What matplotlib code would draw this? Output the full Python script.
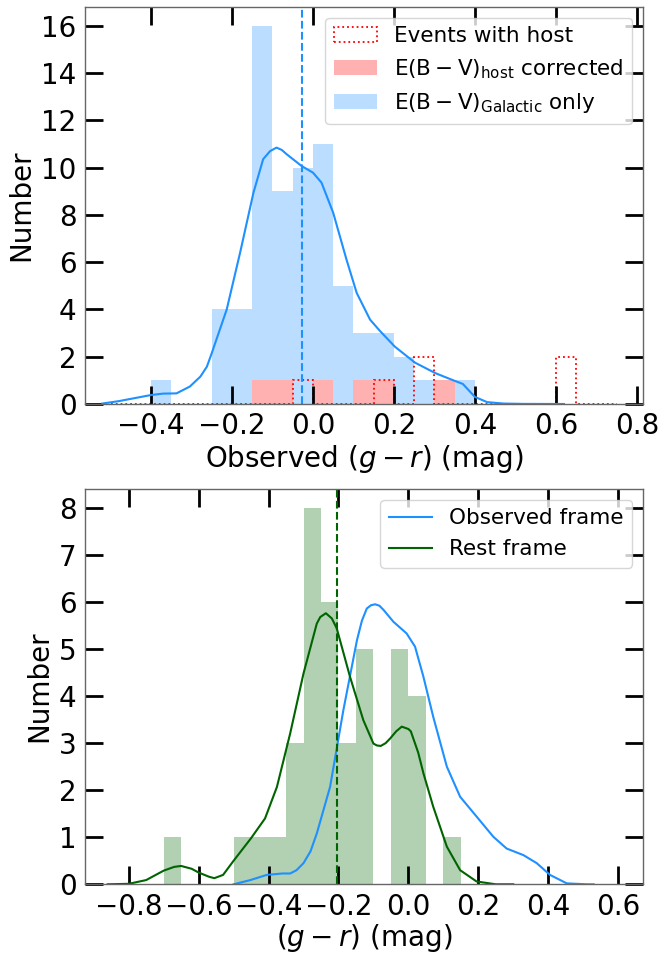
import matplotlib
matplotlib.use("Agg")
import matplotlib.pyplot as plt
from matplotlib.patches import Patch
import numpy as np

# ---------------- data ----------------
# Top panel: observed g-r histogram (bin width 0.05)
top_edges = [-0.40, -0.35, -0.30, -0.25, -0.20, -0.15, -0.10, -0.05, 0.00,
             0.05, 0.10, 0.15, 0.20, 0.25, 0.30, 0.35, 0.40]
galactic_counts = [1, 0, 0, 4, 4, 16, 9, 10, 11, 5, 3, 3, 2, 1, 1, 1]
host_corr_counts = [0, 0, 0, 0, 0, 1, 1, 0, 1, 0, 1, 1, 0, 0, 1, 0]

host_edges = [-0.50, -0.45, -0.40, -0.35, -0.30, -0.25, -0.20, -0.15, -0.10,
              -0.05, 0.00, 0.05, 0.10, 0.15, 0.20, 0.25, 0.30, 0.35, 0.40,
              0.45, 0.50, 0.55, 0.60, 0.65, 0.70, 0.75]
host_counts = [0, 0, 0, 0, 0, 0, 0, 0, 0,
               1, 0, 0, 0, 1, 0, 2, 0, 0, 0,
               0, 0, 0, 2, 0, 0]

top_kde_x = [-0.52, -0.48, -0.44, -0.40, -0.37, -0.337, -0.304, -0.278,
             -0.262, -0.25, -0.213, -0.18, -0.147, -0.135, -0.123, -0.106,
             -0.09, -0.077, -0.065, -0.028, 0.0, 0.021, 0.05, 0.083, 0.108,
             0.141, 0.165, 0.202, 0.252, 0.303, 0.347, 0.37, 0.40, 0.43,
             0.47, 0.52, 0.62]
top_kde_y = [0.02, 0.12, 0.25, 0.38, 0.44, 0.45, 0.74, 1.16,
             1.58, 2.15, 4.0, 6.4, 8.94, 9.65, 10.36, 10.7,
             10.85, 10.75, 10.57, 10.07, 9.79, 9.37, 8.09, 6.1, 4.7,
             3.57, 3.1, 2.43, 1.75, 1.3, 1.0, 0.85, 0.3, 0.08,
             0.02, 0.005, 0.0]
top_median = -0.028

# Bottom panel: rest-frame g-r histogram (bin width 0.05)
bot_edges = [-0.70, -0.65, -0.60, -0.55, -0.50, -0.45, -0.40, -0.35, -0.30,
             -0.25, -0.20, -0.15, -0.10, -0.05, 0.00, 0.05, 0.10, 0.15]
rest_counts = [1, 0, 0, 0, 1, 1, 1, 3, 8, 6, 3, 5, 0, 5, 4, 0, 1]

obs_kde_x = [-0.50, -0.452, -0.405, -0.36, -0.338, -0.32, -0.30, -0.28,
             -0.262, -0.224, -0.186, -0.147, -0.133, -0.119, -0.107, -0.095,
             -0.083, -0.071, -0.043, -0.005, 0.019, 0.043, 0.071, 0.11,
             0.148, 0.195, 0.243, 0.281, 0.329, 0.367, 0.405, 0.453, 0.51,
             0.53]
obs_kde_y = [0.0, 0.09, 0.2, 0.23, 0.23, 0.3, 0.45, 0.7,
             1.08, 2.07, 3.70, 5.19, 5.6, 5.86, 5.93, 5.95,
             5.92, 5.83, 5.58, 5.33, 5.05, 4.41, 3.56, 2.50,
             1.86, 1.44, 1.01, 0.76, 0.62, 0.45, 0.20, 0.02, 0.0,
             0.0]

rest_kde_x = [-0.86, -0.80, -0.75, -0.70, -0.67, -0.65, -0.62, -0.60, -0.57,
              -0.555, -0.53, -0.50, -0.45, -0.41, -0.376, -0.338, -0.30,
              -0.262, -0.252, -0.236, -0.219, -0.205, -0.167, -0.129, -0.10,
              -0.09, -0.079, -0.065, -0.052, -0.035, -0.019, 0.0, 0.007,
              0.014, 0.028, 0.043, 0.071, 0.11, 0.148, 0.195, 0.25, 0.30]
rest_kde_y = [0.0, 0.01, 0.09, 0.29, 0.37, 0.39, 0.33, 0.25, 0.16,
              0.13, 0.2, 0.5, 0.98, 1.4, 2.07, 3.21, 4.48,
              5.54, 5.68, 5.76, 5.65, 5.44, 4.41, 3.49, 2.99,
              2.95, 2.94, 3.0, 3.10, 3.25, 3.35, 3.3, 3.25,
              3.1, 2.8, 2.36, 1.65, 0.80, 0.30, 0.06, 0.0, 0.0]
rest_median = -0.205

top_xticks = [-0.4, -0.2, 0.0, 0.2, 0.4, 0.6, 0.8]
top_yticks = [0, 2, 4, 6, 8, 10, 12, 14, 16]
bot_xticks = [-0.8, -0.6, -0.4, -0.2, 0.0, 0.2, 0.4, 0.6]
bot_yticks = [0, 1, 2, 3, 4, 5, 6, 7, 8]

# ---------------- figure ----------------
plt.rcParams['font.family'] = ['DejaVu Sans']
fig = plt.figure(figsize=(6.63, 9.56), dpi=100)
ax1 = fig.add_axes([0.1282, 0.5774, 0.8416, 0.4153])
ax2 = fig.add_axes([0.1282, 0.0750, 0.8416, 0.4135])

PINK = '#ffb1b1'


def style(ax):
    ax.tick_params(direction='in', length=13, width=2, top=True, right=True,
                   labelsize=20, color='black', pad=6)
    for s in ax.spines.values():
        s.set_color('0.4')
        s.set_linewidth(1.0)


# top panel
tw = np.diff(top_edges)
ax1.bar(top_edges[:-1], galactic_counts, width=tw, align='edge',
        color='dodgerblue', alpha=0.3, linewidth=0)
ax1.bar(top_edges[:-1], host_corr_counts, width=tw, align='edge',
        color=PINK, linewidth=0)
ax1.stairs(host_counts, host_edges, color='red', linestyle=':', linewidth=1.3,
           baseline=0)
ax1.plot(top_kde_x, top_kde_y, color='dodgerblue', lw=1.5)
ax1.axvline(top_median, color='dodgerblue', ls='--', lw=1.5)
ax1.set_xlim(-0.563, 0.815)
ax1.set_ylim(0, 16.8)
ax1.set_xticks(top_xticks)
ax1.set_yticks(top_yticks)
ax1.set_xlabel(r'Observed ($g-r$) (mag)', fontsize=20, labelpad=2)
ax1.set_ylabel('Number', fontsize=20)
style(ax1)
handles1 = [
    Patch(facecolor='none', edgecolor='red', linestyle=':', linewidth=1.3),
    Patch(facecolor=PINK, linewidth=0),
    Patch(facecolor='dodgerblue', alpha=0.3, linewidth=0),
]
labels1 = ['Events with host', r'$\mathrm{E(B-V)_{host}}$ corrected',
           r'$\mathrm{E(B-V)_{Galactic}}$ only']
ax1.legend(handles1, labels1, loc='upper right', fontsize=15.5,
           borderaxespad=0.5, handlelength=2.0)

# bottom panel
bw = np.diff(bot_edges)
ax2.bar(bot_edges[:-1], rest_counts, width=bw, align='edge',
        color='darkgreen', alpha=0.3, linewidth=0)
ax2.plot(obs_kde_x, obs_kde_y, color='dodgerblue', lw=1.5,
         label='Observed frame')
ax2.plot(rest_kde_x, rest_kde_y, color='darkgreen', lw=1.5,
         label='Rest frame')
ax2.axvline(rest_median, color='darkgreen', ls='--', lw=1.5)
ax2.set_xlim(-0.925, 0.671)
ax2.set_ylim(0, 8.4)
ax2.set_xticks(bot_xticks)
ax2.set_yticks(bot_yticks)
ax2.set_xlabel(r'($g-r$) (mag)', fontsize=20, labelpad=1)
ax2.set_ylabel('Number', fontsize=20)
style(ax2)
ax2.legend(loc='upper right', fontsize=15.5, borderaxespad=0.5)

fig.savefig('out.png', dpi=100)
